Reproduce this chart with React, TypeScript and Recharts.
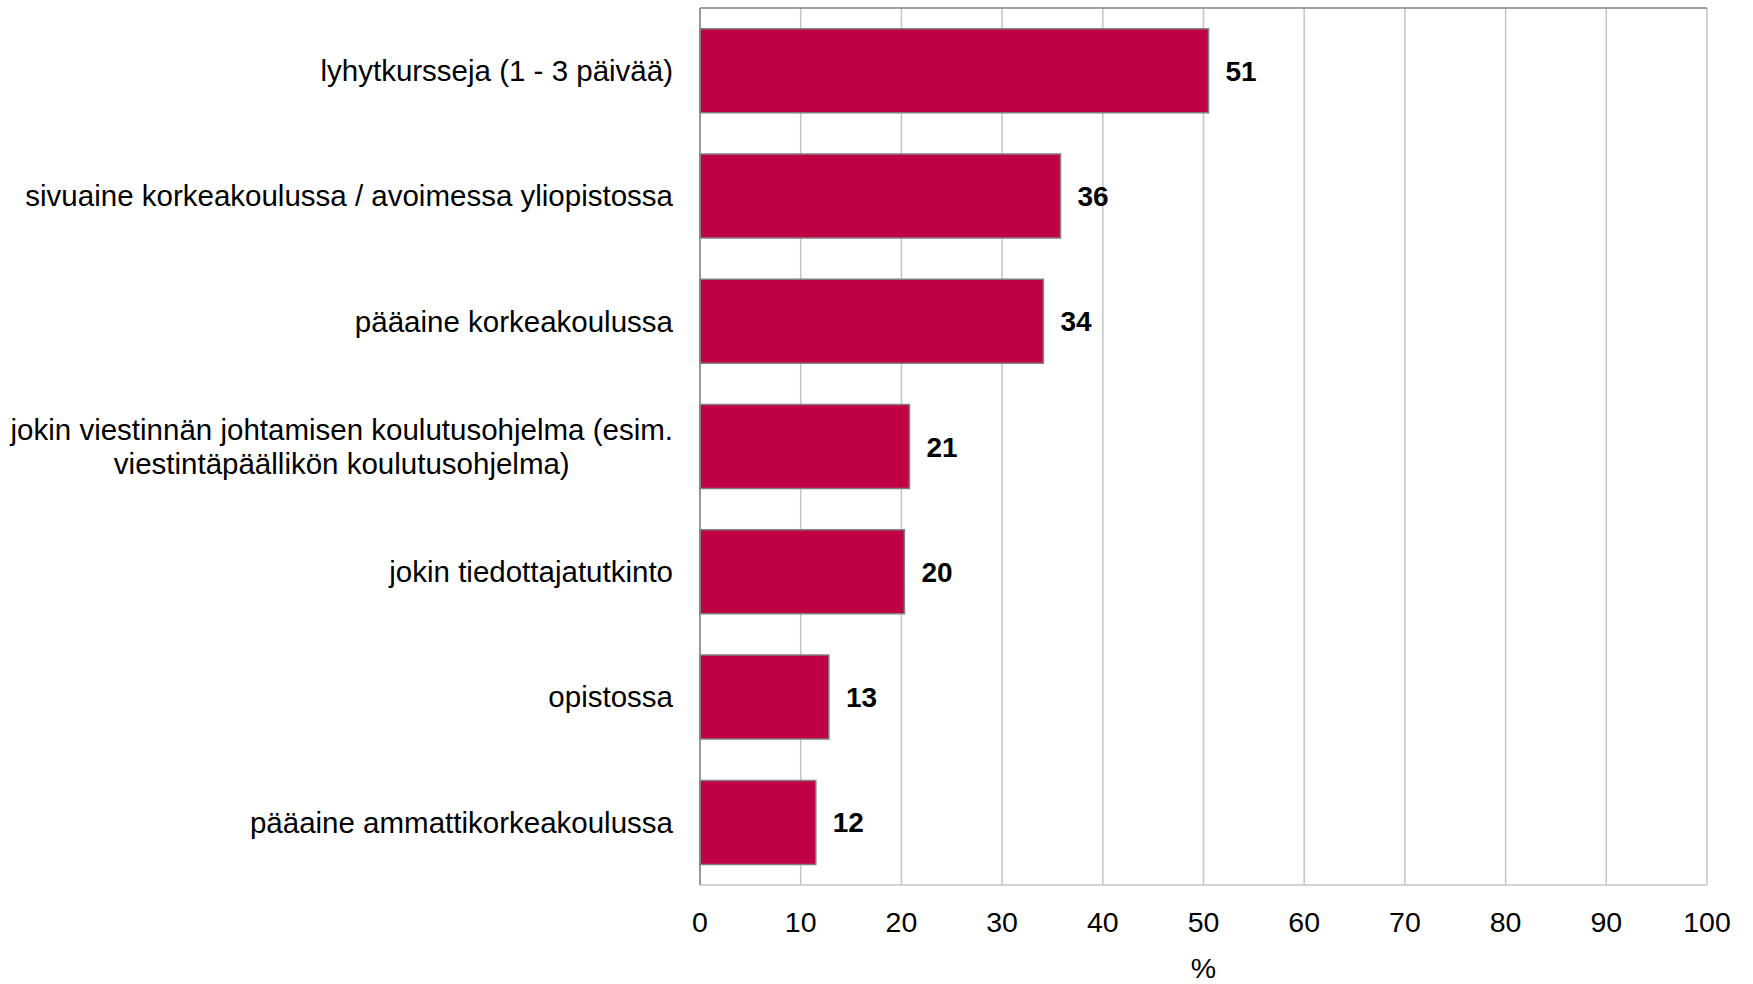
import React from "react";
import {
  BarChart,
  Bar,
  XAxis,
  YAxis,
  CartesianGrid,
  LabelList,
} from "recharts";

// ── Data ──────────────────────────────────────────────────────────────────────

const categories = [
  "lyhytkursseja (1 - 3 päivää)",
  "sivuaine korkeakoulussa / avoimessa yliopistossa",
  "pääaine korkeakoulussa",
  "jokin viestinnän johtamisen koulutusohjelma (esim.\nviestintäpäällikön koulutusohjelma)",
  "jokin tiedottajatutkinto",
  "opistossa",
  "pääaine ammattikorkeakoulussa",
];

const values = [50.5, 35.8, 34.1, 20.8, 20.3, 12.8, 11.5];
const valueLabels = ["51", "36", "34", "21", "20", "13", "12"];
const xTicks = [0, 10, 20, 30, 40, 50, 60, 70, 80, 90, 100];

const data = categories.map((name, i) => ({
  name,
  value: values[i],
  label: valueLabels[i],
}));

// ── Style ─────────────────────────────────────────────────────────────────────

const FONT = "'Liberation Sans', Arial, sans-serif";
const BAR_FILL = "#c00045";
const BAR_STROKE = "#808080";
const GRID = "#c4c4c4";
const FRAME = "#868686";
const CAT_SIZE = 29.5;
const LINE_H = 33.5;

let ctx: CanvasRenderingContext2D | null = null;
function textWidth(s: string) {
  if (!ctx) ctx = document.createElement("canvas").getContext("2d");
  if (!ctx) return s.length * CAT_SIZE * 0.5;
  ctx.font = `${CAT_SIZE}px ${FONT}`;
  return ctx.measureText(s).width;
}

function CategoryTick({ x, y, payload }: any) {
  const lines: string[] = String(payload.value).split("\n");
  if (lines.length === 1) {
    return (
      <text x={x} y={y} dy="0.35em" textAnchor="end" fontSize={CAT_SIZE} fontFamily={FONT} fill="#000">
        {lines[0]}
      </text>
    );
  }
  const maxW = Math.max(...lines.map(textWidth));
  const cx = x - maxW / 2;
  const startDy = -((lines.length - 1) / 2) * LINE_H;
  return (
    <text x={cx} y={y} textAnchor="middle" fontSize={CAT_SIZE} fontFamily={FONT} fill="#000">
      {lines.map((l, i) => (
        <tspan key={i} x={cx} dy={i === 0 ? startDy + CAT_SIZE * 0.35 : LINE_H}>
          {l}
        </tspan>
      ))}
    </text>
  );
}

function ValueTick({ x, y, payload }: any) {
  return (
    <text x={x} y={y} dy={39} textAnchor="middle" fontSize={28.5} fontFamily={FONT} fill="#000">
      {payload.value}
    </text>
  );
}

function ValueLabel({ x, y, width, height, value }: any) {
  return (
    <text
      x={x + width + 17}
      y={y + height / 2}
      dy="0.36em"
      textAnchor="start"
      fontSize={28}
      fontWeight="bold"
      fontFamily={FONT}
      fill="#000"
    >
      {value}
    </text>
  );
}

// ── Main ──────────────────────────────────────────────────────────────────────

export default function App() {
  return (
    <div style={{ position: "absolute", left: 0, top: 0, background: "#fff" }}>
      <BarChart
        width={1753}
        height={984}
        data={data}
        layout="vertical"
        barCategoryGap="16.5%"
        margin={{ top: 7, right: 46, left: 0, bottom: 0 }}
      >
        <CartesianGrid horizontal={false} stroke={GRID} strokeWidth={1.5} />
        <XAxis
          type="number"
          domain={[0, 100]}
          ticks={xTicks}
          interval={0}
          height={99}
          axisLine={{ stroke: GRID, strokeWidth: 1.5 }}
          tickLine={false}
          tick={<ValueTick />}
          label={{
            value: "%",
            position: "insideBottom",
            offset: 6,
            fontSize: 28.5,
            fontFamily: FONT,
            fill: "#000",
          }}
        />
        <XAxis
          xAxisId="top"
          orientation="top"
          type="number"
          domain={[0, 100]}
          height={1}
          tick={false}
          tickLine={false}
          axisLine={{ stroke: FRAME, strokeWidth: 1.5 }}
        />
        <YAxis
          type="category"
          dataKey="name"
          width={700}
          axisLine={{ stroke: FRAME, strokeWidth: 1.5 }}
          tickLine={false}
          tickMargin={21}
          interval={0}
          tick={<CategoryTick />}
        />
        <Bar
          dataKey="value"
          fill={BAR_FILL}
          stroke={BAR_STROKE}
          strokeWidth={1.5}
          isAnimationActive={false}
        >
          <LabelList dataKey="label" content={<ValueLabel />} />
        </Bar>
      </BarChart>
    </div>
  );
}
